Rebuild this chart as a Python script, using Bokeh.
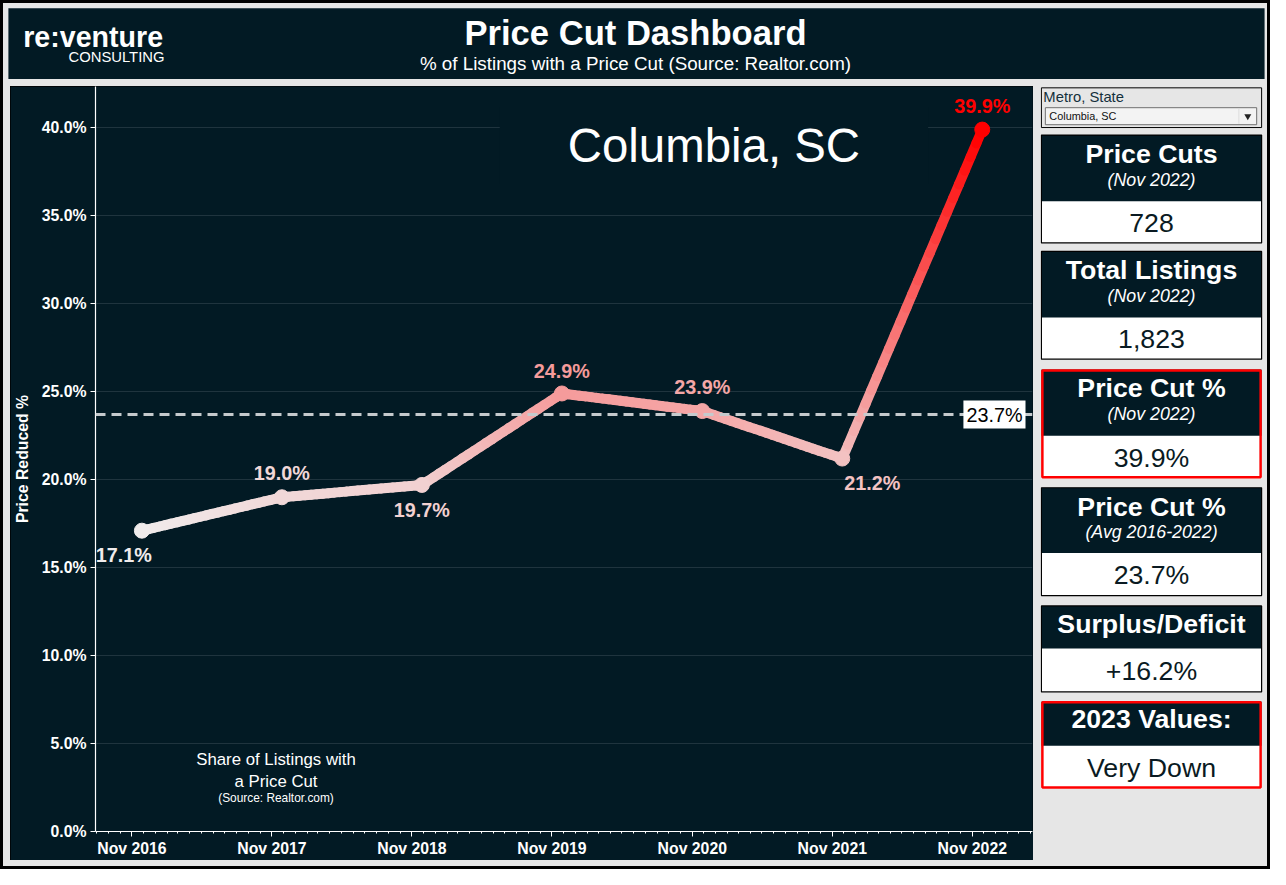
import numpy as np
import pandas as pd
from bokeh.plotting import figure
from bokeh.models import (FixedTicker, PrintfTickFormatter, DatetimeTickFormatter, Span, Label,
                          Range1d, Spacer)
from bokeh.layouts import column, row
from bokeh.embed import file_html
from bokeh.resources import INLINE
from bokeh.core.properties import value

# ---------------- data ----------------
obs_dates = ["2016-11-27", "2017-11-27", "2018-11-27", "2019-11-27",
             "2020-11-27", "2021-11-27", "2022-11-27"]
price_cut_pct = [17.1, 19.0, 19.7, 24.9, 23.9, 21.2, 39.9]
avg_pct = 23.7
metro = "Columbia, SC"
tick_dates = ["2016-11-01", "2017-11-01", "2018-11-01", "2019-11-01",
              "2020-11-01", "2021-11-01", "2022-11-01"]
tick_labels = ["Nov 2016", "Nov 2017", "Nov 2018", "Nov 2019", "Nov 2020", "Nov 2021", "Nov 2022"]
y_ticks = [0, 5, 10, 15, 20, 25, 30, 35, 40]

panel_titles = ["Price Cuts", "Total Listings", "Price Cut %", "Price Cut %", "Surplus/Deficit", "2023 Values:"]
panel_subtitles = ["(Nov 2022)", "(Nov 2022)", "(Nov 2022)", "(Avg 2016-2022)", "", ""]
panel_values = ["728", "1,823", "39.9%", "23.7%", "+16.2%", "Very Down"]
panel_alert = [False, False, True, False, False, True]

# ---------------- styles / geometry ----------------
BG = "#021a24"
GRAY = "#e6e6e6"
FONT = "Liberation Sans"
W, H = 1270, 869            # page content size
RW, RH = 1286.0, 885.0      # reference design size
SX, SY = W / RW, H / RH
label_dx = [-18, 0, 0, 0, 0, 30, 0]
label_dy = [24, -24, 25, -22, -24, 24, -24]


def fs(n):
    return "%.1fpx" % (n * SX)


def to_ms(d):
    return pd.to_datetime(d).values.astype("datetime64[ms]").astype("int64").astype(float)


xs = float(to_ms(["2016-07-29"])[0])
xe = float(to_ms(["2023-04-07"])[0])
YTOP = 42.35


def px_to_x(px):
    return xs + (px - 95) / 950.0 * (xe - xs)


def px_to_y(py):
    return (846 - py) / 758.0 * YTOP


vmin, vmax = min(price_cut_pct), max(price_cut_pct)
LO = np.array([240, 236, 236])
HI = np.array([255, 0, 0])


def color_of(v):
    f = (v - vmin) / (vmax - vmin)
    c = LO + (HI - LO) * f
    return "#%02x%02x%02x" % tuple(int(round(t)) for t in c)


x_ms = to_ms(obs_dates)

B = 3  # black outer border

# ---------------- header (canvas x 3..1267, y 3..86) ----------------
hx0, hx1, hy0, hy1 = B, W - B, B, 86
header = figure(width=hx1 - hx0, height=hy1 - hy0,
                x_range=Range1d(hx0 / SX, hx1 / SX), y_range=Range1d(hy1 / SY, hy0 / SY),
                output_backend="svg", toolbar_location=None, min_border=0,
                background_fill_color=GRAY, border_fill_color=GRAY, outline_line_color=None)
header.axis.visible = False
header.grid.visible = False
header.quad(left=[8], right=[1280], top=[8], bottom=[80], fill_color=BG, line_color=None)
header.text(x=[643], y=[33], text=["Price Cut Dashboard"], text_align="center", text_baseline="middle",
            text_font=value(FONT), text_font_style="bold", text_font_size=fs(35), text_color="white")
header.text(x=[643], y=[64], text=["% of Listings with a Price Cut (Source: Realtor.com)"],
            text_align="center", text_baseline="middle", text_font=value(FONT),
            text_font_size=fs(19), text_color="white")
header.text(x=[23], y=[37], text=["re:venture"], text_align="left", text_baseline="middle",
            text_font=value(FONT), text_font_style="bold", text_font_size=fs(29), text_color="white")
header.text(x=[166], y=[58], text=["CONSULTING"], text_align="right", text_baseline="middle",
            text_font=value(FONT), text_font_size=fs(15), text_color="white")

# ---------------- chart (canvas x 10..1033, y 86..860) ----------------
cw, ch = 1023, 774
p = figure(width=cw, height=ch, x_axis_type="datetime", x_range=Range1d(xs, xe),
           y_range=Range1d(0, YTOP), output_backend="svg", toolbar_location=None,
           min_border_left=84, min_border_right=1, min_border_top=0, min_border_bottom=29,
           background_fill_color=BG, border_fill_color=BG, outline_line_color=None,
           styles={"outline": "1px solid black", "outline-offset": "-1px"})

tick_ms = list(to_ms(tick_dates))
minor_ms = list(to_ms(pd.date_range("2016-08-01", "2023-04-01", freq="MS")))
p.xaxis.ticker = FixedTicker(ticks=tick_ms, minor_ticks=minor_ms)
fmt = "%b %Y"
p.xaxis.formatter = DatetimeTickFormatter(years=fmt, months=fmt, days=fmt, hours=fmt, minutes=fmt,
                                          seconds=fmt, milliseconds=fmt, microseconds=fmt, hourmin=fmt,
                                          minsec=fmt)
p.yaxis.ticker = FixedTicker(ticks=y_ticks)
p.yaxis.formatter = PrintfTickFormatter(format="%.1f%%")

for ax in (p.xaxis[0], p.yaxis[0]):
    ax.axis_line_color = "white"
    ax.axis_line_width = 1.2
    ax.major_tick_line_color = "white"
    ax.major_tick_in = 0
    ax.major_tick_out = 5
    ax.major_label_text_color = "white"
    ax.major_label_text_font = FONT
    ax.major_label_text_font_style = "bold"
    ax.major_label_text_font_size = fs(16)
p.xaxis.minor_tick_line_color = "white"
p.xaxis.minor_tick_in = 0
p.xaxis.minor_tick_out = 2
p.xaxis.major_label_standoff = 3
p.yaxis.minor_tick_line_color = None
p.yaxis.major_label_standoff = 4
p.yaxis.axis_label = "Price Reduced %"
p.yaxis.axis_label_text_color = "white"
p.yaxis.axis_label_text_font = FONT
p.yaxis.axis_label_text_font_style = "bold"
p.yaxis.axis_label_text_font_size = fs(16)
p.yaxis.axis_label_standoff = 8
p.xgrid.visible = False
p.ygrid.grid_line_color = "#1f343e"
p.ygrid.grid_line_width = 1

# metro title (masks the top gridline behind it)
p.add_layout(Label(x=px_to_x(722), y=px_to_y(148), text=metro, text_align="center",
                   text_baseline="middle", text_font=FONT, text_font_size=fs(48), text_color="white",
                   background_fill_color=BG,
                   padding=dict(left=68, right=68, top=12, bottom=12)))

# average line
p.add_layout(Span(location=avg_pct, dimension="width", line_color="#c5cacd", line_width=3,
                  line_dash="10 6"))
p.add_layout(Label(x=xe, y=avg_pct, text="%.1f%%" % avg_pct, text_align="right", text_baseline="middle",
                   x_offset=-7, text_font=FONT, text_font_size=fs(20), text_color="black",
                   background_fill_color="white", padding=3))

# gradient line
N = 24
sx0, sy0, sx1, sy1, scol = [], [], [], [], []
for i in range(len(price_cut_pct) - 1):
    xa, xb = x_ms[i], x_ms[i + 1]
    ya, yb = price_cut_pct[i], price_cut_pct[i + 1]
    for k in range(N):
        t0, t1 = k / N, (k + 1) / N
        sx0.append(xa + (xb - xa) * t0)
        sx1.append(xa + (xb - xa) * t1)
        sy0.append(ya + (yb - ya) * t0)
        sy1.append(ya + (yb - ya) * t1)
        scol.append(color_of(ya + (yb - ya) * (t0 + t1) / 2))
p.segment(x0=sx0, y0=sy0, x1=sx1, y1=sy1, line_color=scol, line_width=10, line_cap="round")

pt_cols = [color_of(v) for v in price_cut_pct]
p.scatter(x=list(x_ms), y=price_cut_pct, size=15, fill_color=pt_cols, line_color=pt_cols)

p.text(x=list(x_ms), y=price_cut_pct, text=["%.1f%%" % v for v in price_cut_pct],
       x_offset=label_dx, y_offset=label_dy, text_align="center", text_baseline="middle",
       text_font=value(FONT), text_font_style="bold", text_font_size=fs(20), text_color=pt_cols)

# caption
for txt, py, sz in [("Share of Listings with", 773, 17), ("a Price Cut", 795, 17),
                    ("(Source: Realtor.com)", 812, 12)]:
    p.add_layout(Label(x=px_to_x(278), y=px_to_y(py), text=txt, text_align="center",
                       text_baseline="middle", text_font=FONT, text_font_size=fs(sz), text_color="white"))

# ---------------- side panel (canvas x 1040..1267, y 86..866) ----------------
px0, px1, py0, py1 = 1040, W - B, 86, H - B
q = figure(width=px1 - px0, height=py1 - py0,
           x_range=Range1d(px0 / SX, px1 / SX), y_range=Range1d(py1 / SY, py0 / SY),
           output_backend="svg", toolbar_location=None, min_border=0,
           background_fill_color=GRAY, border_fill_color=GRAY, outline_line_color=None)
q.axis.visible = False
q.grid.visible = False

# dropdown
q.quad(left=[1054], right=[1277], top=[89], bottom=[131], fill_color=GRAY, line_color="black",
       line_width=1)
q.text(x=[1056], y=[99], text=["Metro, State"], text_align="left", text_baseline="middle",
       text_font=value(FONT), text_font_size=fs(15), text_color="#14303c")
q.quad(left=[1058], right=[1272], top=[110], bottom=[128], fill_color="#f3f3f3", line_color="#6f6f6f",
       line_width=1)
q.segment(x0=[1254], y0=[111], x1=[1254], y1=[127], line_color="#dddddd", line_width=1)
q.text(x=[1062], y=[119], text=[metro], text_align="left", text_baseline="middle",
       text_font=value(FONT), text_font_size=fs(11), text_color="#111111")
q.scatter(x=[1263], y=[119], marker="inverted_triangle", size=7, fill_color="#222222", line_color=None)

# KPI boxes geometry (reference px): top, split, bottom
box_geom = [(139, 209, 253), (262, 332, 376), (387, 457, 502), (512, 581, 626), (637, 682, 728),
            (738, 785, 830)]
BX0, BX1 = 1054, 1277
BXC = (BX0 + BX1) / 2
for i, (t, s, b) in enumerate(box_geom):
    q.quad(left=[BX0], right=[BX1], top=[t], bottom=[b], fill_color="white", line_color=None)
    q.quad(left=[BX0], right=[BX1], top=[t], bottom=[s], fill_color=BG, line_color=None)
    if panel_alert[i]:
        q.quad(left=[BX0 + 1], right=[BX1 - 1], top=[t + 1], bottom=[b - 1], fill_color=None,
               line_color="#ff0000", line_width=2.5)
    else:
        q.quad(left=[BX0], right=[BX1], top=[t], bottom=[b], fill_color=None, line_color="black",
               line_width=1.2)
    if panel_subtitles[i]:
        ty, sy = t + 20, t + 47
    else:
        ty, sy = t + 19, None
    q.text(x=[BXC], y=[ty], text=[panel_titles[i]], text_align="center", text_baseline="middle",
           text_font=value(FONT), text_font_style="bold", text_font_size=fs(27), text_color="white")
    if sy is not None:
        q.text(x=[BXC], y=[sy], text=[panel_subtitles[i]], text_align="center", text_baseline="middle",
               text_font=value(FONT), text_font_style="italic", text_font_size=fs(18), text_color="white")
    q.text(x=[BXC], y=[(s + b) / 2 + 1], text=[panel_values[i]], text_align="center",
           text_baseline="middle", text_font=value(FONT), text_font_size=fs(27), text_color="#0a1a22")

# ---------------- page layout ----------------
gstyle = {"background-color": GRAY}
kstyle = {"background-color": "black"}

chart_row = row(Spacer(width=7, height=py1 - py0, styles=gstyle), p,
                Spacer(width=px0 - 10 - cw, height=py1 - py0, styles=gstyle), q,
                spacing=0, styles=gstyle)
inner = column(header, chart_row, spacing=0, styles=gstyle)
middle = row(Spacer(width=B, height=H - 2 * B, styles=kstyle), inner,
             Spacer(width=B, height=H - 2 * B, styles=kstyle), spacing=0, styles=kstyle)
layout = column(Spacer(width=W, height=B, styles=kstyle), middle,
                Spacer(width=W, height=B, styles=kstyle), spacing=0, styles=kstyle)

open("out.html", "w").write(file_html(layout, INLINE))
